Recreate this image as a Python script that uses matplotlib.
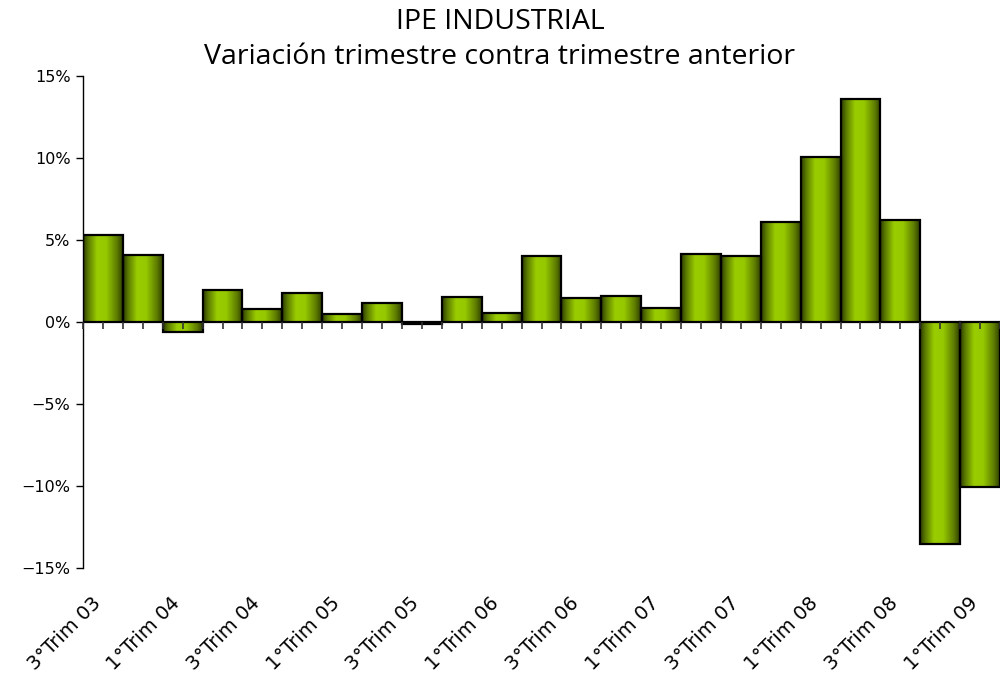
import numpy as np
import matplotlib
matplotlib.use("Agg")
import matplotlib.pyplot as plt
import matplotlib.transforms as mtransforms
from matplotlib.colors import LinearSegmentedColormap
from matplotlib.ticker import FuncFormatter

categories = ["3°Trim 03", "4°Trim 03", "1°Trim 04", "2°Trim 04", "3°Trim 04", "4°Trim 04",
              "1°Trim 05", "2°Trim 05", "3°Trim 05", "4°Trim 05", "1°Trim 06", "2°Trim 06",
              "3°Trim 06", "4°Trim 06", "1°Trim 07", "2°Trim 07", "3°Trim 07", "4°Trim 07",
              "1°Trim 08", "2°Trim 08", "3°Trim 08", "4°Trim 08", "1°Trim 09"]
values = [5.3, 4.1, -0.6, 1.95, 0.8, 1.77, 0.49, 1.16, -0.12, 1.52, 0.55, 4.02,
          1.46, 1.59, 0.85, 4.15, 4.02, 6.1, 10.06, 13.6, 6.22, -13.54, -10.06]
yticks = [-15, -10, -5, 0, 5, 10, 15]

plt.rcParams['font.family'] = ['DejaVu Sans']
fig = plt.figure(figsize=(10, 6.79), dpi=100)
ax = fig.add_axes([0.083, 1 - 568 / 679, 1 - 0.083, (568 - 76) / 679])

x = np.arange(len(categories))
bars = ax.bar(x, values, width=1.0, facecolor='none', edgecolor='black', linewidth=1.6, zorder=3)

cmap = LinearSegmentedColormap.from_list('g', [(0.0, '#2a3a00'), (0.12, '#587600'), (0.35, '#99cc00'),
                                               (0.58, '#96c900'), (0.85, '#5e7c00'), (1.0, '#2e3e00')])
grad = np.linspace(0, 1, 256).reshape(1, -1)
for b in bars:
    x0, y0 = b.get_x(), b.get_y()
    w, h = b.get_width(), b.get_height()
    im = ax.imshow(grad, cmap=cmap, aspect='auto', extent=[x0, x0 + w, y0, y0 + h],
                   zorder=2, interpolation='bilinear')
    im.set_clip_path(b)

ax.set_xlim(-0.5, len(categories) - 0.5)
ax.set_ylim(-15, 15)

ax.spines['top'].set_visible(False)
ax.spines['right'].set_visible(False)
ax.spines['bottom'].set_visible(False)
ax.spines['left'].set_linewidth(1.0)

ax.set_yticks(yticks)
ax.yaxis.set_major_formatter(FuncFormatter(lambda v, p: f"{int(v)}%".replace('-', '\u2212')))
ax.tick_params(axis='y', direction='out', length=5, width=1, labelsize=11.5, pad=4)

ax.set_xticks(x[::2])
ax.set_xticklabels(categories[::2], rotation=45, ha='right', va='top', rotation_mode='anchor',
                   fontsize=14)
ax.tick_params(axis='x', length=0, pad=18)
offset = mtransforms.ScaledTranslation(-12 / 100, 0, fig.dpi_scale_trans)
for lab in ax.get_xticklabels():
    lab.set_transform(lab.get_transform() + offset)

ax.axhline(0, color='black', linewidth=1.2, zorder=4)
sec = ax.secondary_xaxis(0.5)
sec.set_zorder(5)
sec.xaxis.set_ticks_position('bottom')
sec.set_xticks(np.arange(-0.5, len(categories), 0.5))
sec.tick_params(axis='x', which='both', direction='out', length=5, width=1.2, color='#333333',
                bottom=True, top=False, labelbottom=False, labeltop=False)
sec.set_xticklabels([])
for s in sec.spines.values():
    s.set_visible(False)

fig.text(0.5, 1 - 22 / 679, "IPE INDUSTRIAL", ha='center', va='center', fontsize=20.5,
         family='Open Sans')
fig.text(0.5, 1 - 57 / 679, "Variación trimestre contra trimestre anterior", ha='center',
         va='center', fontsize=20.5, family='Open Sans')

fig.savefig("out.png", dpi=100)
